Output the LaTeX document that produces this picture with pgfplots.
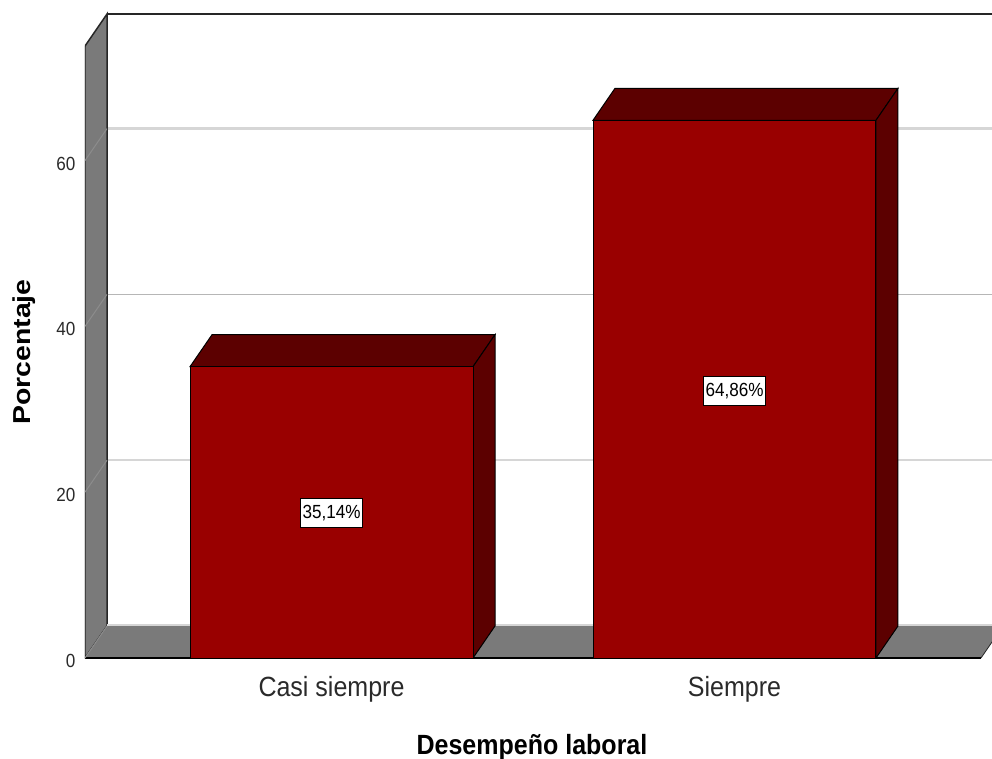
\documentclass[border=0pt]{standalone}
\usepackage{fontspec}
\setmainfont{Liberation Sans}
\newfontfamily\nf[FakeStretch=0.9]{Liberation Sans}
\newfontfamily\wf[FakeStretch=1.16]{Liberation Sans}
\usepackage{pgfplots}
\pgfplotsset{compat=1.18}
\definecolor{barred}{HTML}{990000}
\definecolor{bardark}{HTML}{5C0000}
\definecolor{wallgray}{HTML}{7A7A7A}
\definecolor{gridgray}{HTML}{D6D6D6}
\definecolor{txt}{HTML}{2A2A2A}
\begin{document}
\begin{tikzpicture}[x=1pt,y=1pt]
\path[use as bounding box] (-85,-100) rectangle (907,658);
\begin{axis}[
  at={(0,0)}, anchor=south west,
  scale only axis, width=907pt, height=646.62pt,
  xmin=0.3883, xmax=2.6390, ymin=0, ymax=78,
  axis line style={draw=none}, tick style={draw=none},
  xtick={1,2}, xticklabels={Casi siempre,Siempre},
  ytick={0,20,40,60},
  /pgf/number format/assume math mode=true,
  x tick label style={font=\fontsize{27.8}{30}\nf, text=txt, yshift=-15pt},
  y tick label style={font=\fontsize{19}{22}\nf, text=txt, xshift=-6pt, yshift=-3pt},
  xlabel={Desempeño laboral},
  ylabel={Porcentaje},
  xlabel style={at={(axis description cs:0.4928,-0.1375)}, anchor=center, font=\fontsize{27.8}{30}\nf\bfseries, text=black},
  ylabel style={at={(axis description cs:-0.0668,0.4732)}, anchor=center, rotate=0, font=\fontsize{24.5}{28}\wf\bfseries, text=black},
]
% back wall gridlines
\addplot[gridgray, line width=2.4pt] coordinates {(0.4429,23.86)(2.6390,23.86)};
\addplot[gridgray!85!black, line width=1.6pt] coordinates {(0.4429,43.86)(2.6390,43.86)};
\addplot[gridgray, line width=2.6pt] coordinates {(0.4429,63.86)(2.6390,63.86)};
% side wall
\addplot[fill=wallgray, draw=black!85, line width=1.5pt] coordinates {(0.3883,0)(0.3883,73.82)(0.4429,77.68)(0.4429,3.86)} -- cycle;
% floor
\addplot[gridgray, line width=1.5pt] coordinates {(0.4429,4.0)(2.6663,4.0)};
\addplot[fill=wallgray, draw=none] coordinates {(0.3883,0)(2.6117,0)(2.6663,3.86)(0.4429,3.86)} -- cycle;
\addplot[black!85, line width=0.8pt] coordinates {(2.6117,0)(2.6663,3.86)};
\addplot[black, line width=2pt] coordinates {(0.3883,0)(2.6117,0)};
% side gridlines
\addplot[black!45, line width=1pt] coordinates {(0.3883,0)(0.4429,3.86)};
\addplot[black!45, line width=1pt] coordinates {(0.3883,20)(0.4429,23.86)};
\addplot[black!45, line width=1pt] coordinates {(0.3883,40)(0.4429,43.86)};
\addplot[black!45, line width=1pt] coordinates {(0.3883,60)(0.4429,63.86)};
% top edge
\addplot[black!85, line width=2pt] coordinates {(0.4429,77.68)(2.6390,77.68)};
% bar 1 depth
\addplot[fill=bardark, draw=black, line width=1pt] coordinates {(0.6489,35.14)(0.7035,39.00)(1.4057,39.00)(1.3511,35.14)} -- cycle;
\addplot[fill=bardark, draw=black, line width=1pt] coordinates {(1.3511,0)(1.4057,3.86)(1.4057,39.00)(1.3511,35.14)} -- cycle;
% bar 2 depth
\addplot[fill=bardark, draw=black, line width=1pt] coordinates {(1.6489,64.86)(1.7035,68.72)(2.4057,68.72)(2.3511,64.86)} -- cycle;
\addplot[fill=bardark, draw=black, line width=1pt] coordinates {(2.3511,0)(2.4057,3.86)(2.4057,68.72)(2.3511,64.86)} -- cycle;
% front faces
\addplot[ybar, bar width=0.7022, bar shift=0pt, fill=barred, draw=black, line width=1pt] coordinates {(1,35.14)(2,64.86)};
\node[fill=white, draw=black, line width=1.2pt, inner sep=0pt, minimum width=62pt, minimum height=29pt, font=\fontsize{19}{22}\nf] at (axis cs:1,17.5) {35,14\%};
\node[fill=white, draw=black, line width=1.2pt, inner sep=0pt, minimum width=62pt, minimum height=29pt, font=\fontsize{19}{22}\nf] at (axis cs:2.0,32.2) {64,86\%};
\end{axis}
\end{tikzpicture}
\end{document}
